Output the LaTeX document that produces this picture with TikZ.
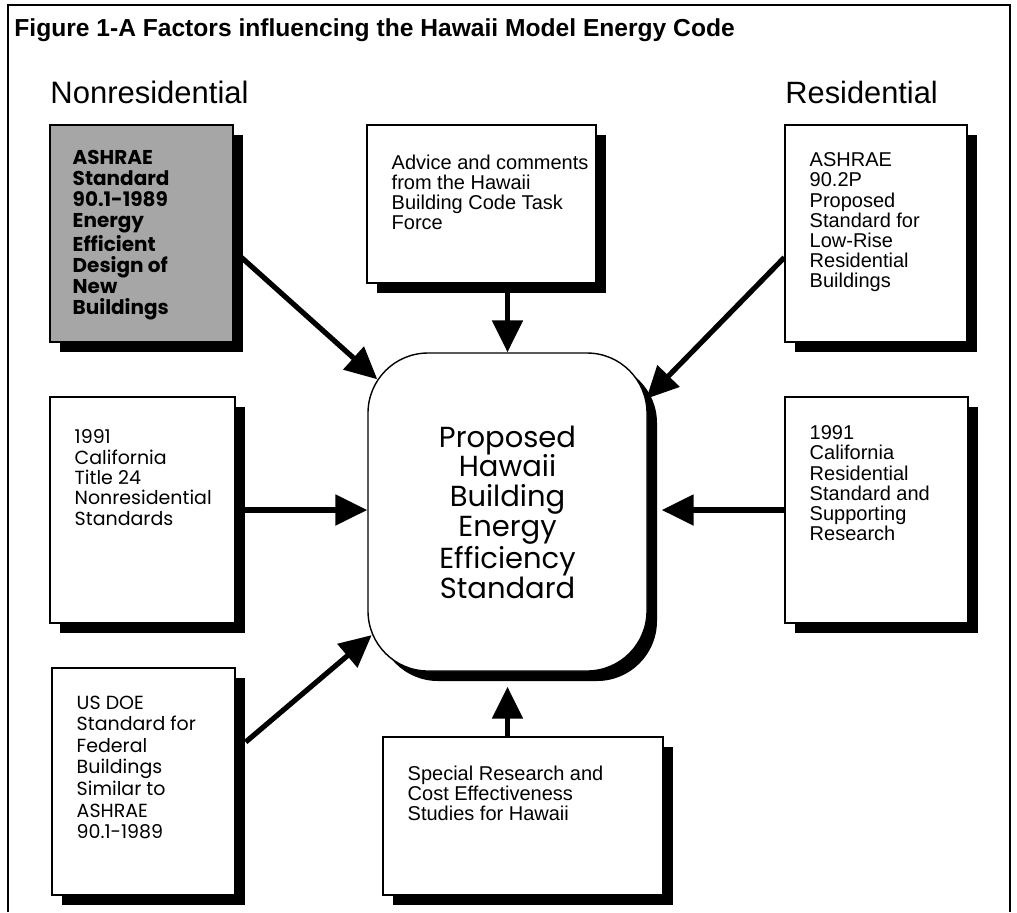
\documentclass[tikz,border=0pt]{standalone}
\usepackage{fontspec}
\setmainfont{Liberation Sans}
\newfontfamily\gothic{Poppins}
\usepackage{tikz}
\usetikzlibrary{shadows, arrows.meta}

\tikzset{
  card/.style={draw, line width=0.7pt, fill=white, inner sep=0pt,
    drop shadow={shadow xshift=5pt, shadow yshift=-5pt, fill=black, opacity=1}},
  helv/.style={anchor=north west, inner sep=0pt, align=left, font=\fontsize{10}{10.1}\selectfont},
  goth/.style={anchor=north west, inner sep=0pt, align=left, font=\gothic\fontsize{9.5}{10.2}\selectfont},
  feed/.style={line width=2.6pt, -{Triangle[length=16pt,width=15pt]}},
}

\begin{document}
\begin{tikzpicture}[x=0.5pt, y=-0.5pt]
\useasboundingbox (0,0) rectangle (1017,912);
\draw[line width=1pt] (8,912) -- (8,5) -- (1010,5) -- (1010,912);
\node[anchor=base west, inner sep=0pt, font=\bfseries\fontsize{12.3}{14}\selectfont] (title) at (14,36) {Figure 1-A Factors influencing the Hawaii Model Energy Code};
\node[anchor=base west, inner sep=0pt, font=\fontsize{15.5}{18}\selectfont] (nonres) at (50,103) {Nonresidential};
\node[anchor=base west, inner sep=0pt, font=\fontsize{15.4}{18}\selectfont] (res) at (785,103) {Residential};

% source boxes
\node[card, fill=black!35, minimum width=91.5pt, minimum height=108.5pt] (ashrae) at (141.5,233.5) {};
\node[card, minimum width=114.5pt, minimum height=79pt] (advice) at (481.5,204) {};
\node[card, minimum width=91pt, minimum height=108.5pt] (lowrise) at (876,233.5) {};
\node[card, minimum width=92.5pt, minimum height=113pt] (title24) at (142.5,510) {};
\node[card, minimum width=91.5pt, minimum height=113pt] (calres) at (876.5,510) {};
\node[card, minimum width=91.5pt, minimum height=113.5pt] (doe) at (143.5,781.5) {};
\node[card, minimum width=140pt, minimum height=79pt] (special) at (523,816) {};

% the standard
\node[card, rounded corners=30pt, minimum width=139.5pt, minimum height=159pt, align=center,
  font=\gothic\fontsize{14.5}{14.9}\selectfont] (hbees) at (507.5,512)
  {Proposed\\Hawaii\\Building\\Energy\\Efficiency\\Standard};

% box texts
\node[goth, font=\gothic\bfseries\fontsize{10}{10.5}\selectfont] (ashraetxt) at ([shift={(23,26)}]ashrae.north west)
  {ASHRAE\\Standard\\90.1-1989\\Energy\\Efficient\\Design of\\New\\Buildings};
\node[helv] (advicetxt) at ([shift={(25,30)}]advice.north west)
  {Advice and comments\\from the Hawaii\\Building Code Task\\Force};
\node[helv] (lowrisetxt) at ([shift={(25,28)}]lowrise.north west)
  {ASHRAE\\90.2P\\Proposed\\Standard for\\Low-Rise\\Residential\\Buildings};
\node[goth] (title24txt) at ([shift={(25,33)}]title24.north west)
  {1991\\California\\Title 24\\Nonresidential\\Standards};
\node[helv] (calrestxt) at ([shift={(25,29)}]calres.north west)
  {1991\\California\\Residential\\Standard and\\Supporting\\Research};
\node[goth, font=\gothic\fontsize{9.5}{10.8}\selectfont] (doetxt) at ([shift={(25,28)}]doe.north west)
  {US DOE\\Standard for\\Federal\\Buildings\\Similar to\\ASHRAE\\90.1-1989};
\node[helv] (specialtxt) at ([shift={(25,29)}]special.north west)
  {Special Research and\\Cost Effectiveness\\Studies for Hawaii};

% arrows into the standard
\draw[feed] ([shift={(0,17)}]ashrae.east) -- ([shift={(10,27)}]hbees.north west);
\draw[feed] (advice.south -| hbees.north) -- (hbees.north);
\draw[feed] ([shift={(0,24)}]lowrise.west) -- ([shift={(-1.5,46.5)}]hbees.north east);
\draw[feed] (title24.east) -- (title24.east -| hbees.west);
\draw[feed] (calres.west) -- ([xshift=7pt]calres.west -| hbees.east);
\draw[feed] ([shift={(10,-39.5)}]doe.east) -- ([shift={(4.4,-36.6)}]hbees.south west);
\draw[feed] (special.north -| hbees.south) -- ([shift={(0,15)}]hbees.south);
\end{tikzpicture}
\end{document}
